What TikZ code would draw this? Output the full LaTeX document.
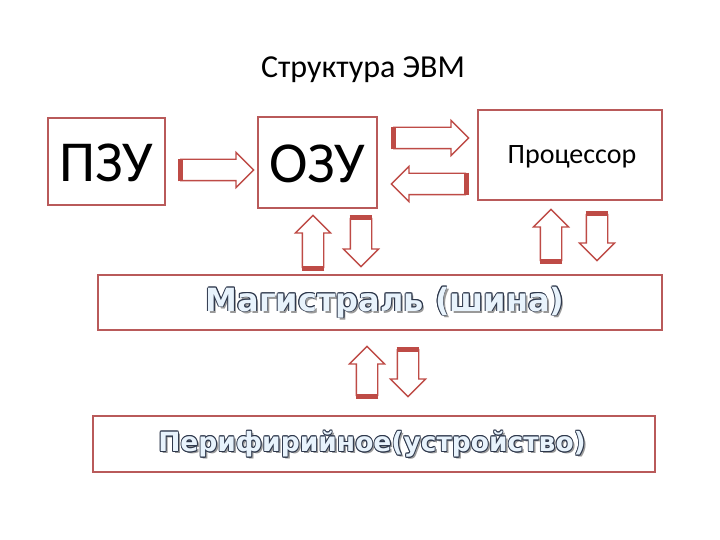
\documentclass[tikz,border=0pt]{standalone}
\usepackage{fontspec}
\setmainfont{Carlito}
\newfontfamily\widefont{DejaVu Sans}
\usetikzlibrary{shapes.arrows}
\definecolor{boxc}{RGB}{185,90,90}
\definecolor{arrc}{RGB}{190,75,70}
\definecolor{txtfill}{RGB}{232,243,252}
\definecolor{txtline}{RGB}{45,55,75}
\newcommand\lay[3]{\makebox[0pt][l]{\hspace{#1}\raisebox{#2}{#3}}}
\newcommand\hollow[1]{%
  \lay{2.2pt}{-2.2pt}{\textcolor{gray!80}{#1}}%
  \lay{0.8pt}{0pt}{\textcolor{txtline}{#1}}\lay{-0.8pt}{0pt}{\textcolor{txtline}{#1}}%
  \lay{0pt}{0.8pt}{\textcolor{txtline}{#1}}\lay{0pt}{-0.8pt}{\textcolor{txtline}{#1}}%
  \lay{0.6pt}{0.6pt}{\textcolor{txtline}{#1}}\lay{-0.6pt}{-0.6pt}{\textcolor{txtline}{#1}}%
  \lay{0.6pt}{-0.6pt}{\textcolor{txtline}{#1}}\lay{-0.6pt}{0.6pt}{\textcolor{txtline}{#1}}%
  \textcolor{txtfill}{#1}}
\tikzset{
  box/.style={draw=boxc,line width=1.2pt,fill=white},
  barr/.style={single arrow,draw=arrc,line width=1.3pt,fill=white,inner xsep=0pt,inner ysep=10pt,
    single arrow head extend=7pt,single arrow head indent=0pt,anchor=tail},
  tailbar/.style={draw=arrc,line width=5pt}
}
\newcommand\blockarr[5]{%
  \node[barr,rotate=#3,minimum height=#4] (#5) at (#1,#2) {};
  \draw[tailbar] (#5.before tail) -- (#5.after tail);}
\begin{document}
\begin{tikzpicture}[x=1pt,y=-1pt]
\useasboundingbox (0,0) rectangle (720,540);
\node (title) at (363,70) {\fontsize{32}{36}\selectfont Структура ЭВМ};
\draw[box] (48,118) rectangle (165,205);
\node (pzu) at (106.5,163) {\fontsize{58}{60}\selectfont ПЗУ};
\draw[box] (258,117) rectangle (377,208);
\node (ozu) at (317.5,164) {\fontsize{58}{60}\selectfont ОЗУ};
\draw[box] (478,110) rectangle (662,200);
\node (proc) at (572,157) {\fontsize{28}{30}\selectfont Процессор};
\draw[box] (98,275) rectangle (662,330);
\node (bus) at (385,303) {\fontsize{32}{36}\selectfont\widefont\bfseries\hollow{Магистраль (шина)}};
\draw[box] (93,416) rectangle (655,472);
\node (per) at (372,445) {\fontsize{26.5}{30}\selectfont\widefont\bfseries\hollow{Перифирийное(устройство)}};
\blockarr{180}{170}{0}{73pt}{a1}
\blockarr{393}{138}{0}{75pt}{a2}
\blockarr{466}{184}{180}{74pt}{a3}
\blockarr{313}{268}{90}{52pt}{a4}
\blockarr{361}{218}{-90}{48pt}{a5}
\blockarr{551}{261}{90}{51pt}{a6}
\blockarr{597}{214}{-90}{46pt}{a7}
\blockarr{367}{396}{90}{49pt}{a8}
\blockarr{408}{349}{-90}{47pt}{a9}
\end{tikzpicture}
\end{document}
